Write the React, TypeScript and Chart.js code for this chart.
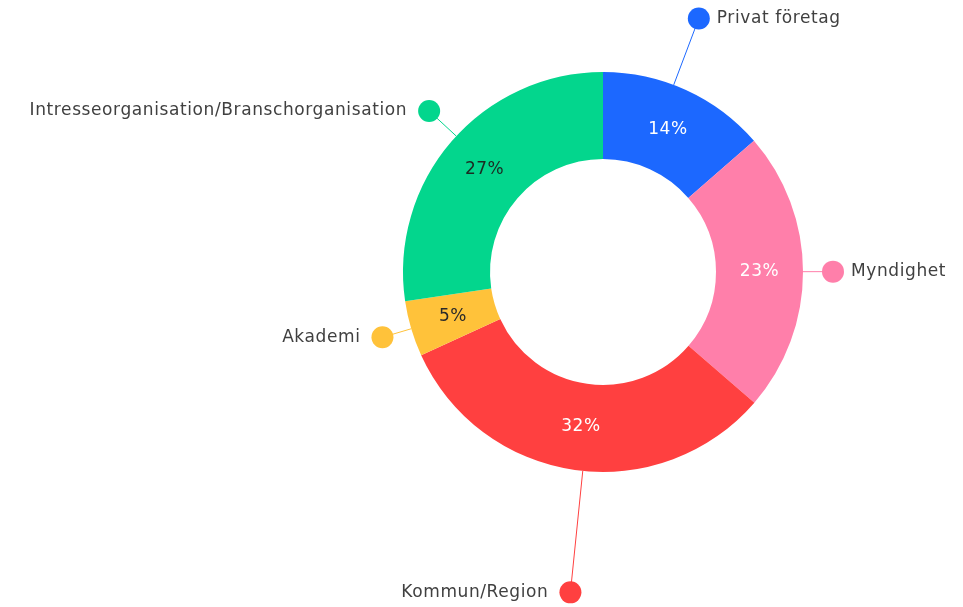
import React, { useEffect, useRef } from "react";
import { Chart, registerables } from "chart.js";

Chart.register(...registerables);

const categories = [
  "Privat företag",
  "Myndighet",
  "Kommun/Region",
  "Akademi",
  "Intresseorganisation/Branschorganisation",
];
const shares = [13.6, 22.7, 31.8, 4.5, 27.3];
const percentLabels = ["14%", "23%", "32%", "5%", "27%"];
const colors = ["#1C68FF", "#FF7FAA", "#FF4040", "#FFC23A", "#03D68D"];
const percentColors = ["#ffffff", "#ffffff", "#ffffff", "#2a2a2a", "#1c2b22"];
// callout styling: extra length beyond the ring and small angle nudges (degrees)
const calloutLength = [71, 30, 122, 30, 37];
const calloutNudge = [-3.8, 0, -2.3, 0, 2];

const calloutPlugin = {
  id: "callouts",
  afterDatasetsDraw(chart: any) {
    const ctx = chart.ctx as CanvasRenderingContext2D;
    const meta = chart.getDatasetMeta(0);
    meta.data.forEach((arc: any, i: number) => {
      const { x, y, startAngle, endAngle, outerRadius, innerRadius } = arc;
      const mid = (startAngle + endAngle) / 2;
      // percentage inside ring
      const rl = (outerRadius + innerRadius) / 2;
      const lx = x + Math.cos(mid) * rl;
      const ly = y + Math.sin(mid) * rl;
      ctx.save();
      (ctx as any).letterSpacing = "0.5px";
      ctx.font = "17px 'DejaVu Sans', sans-serif";
      ctx.fillStyle = percentColors[i];
      ctx.textAlign = "center";
      ctx.textBaseline = "middle";
      ctx.fillText(percentLabels[i], lx, ly);

      // callout
      const a = mid + (calloutNudge[i] * Math.PI) / 180;
      const sx = x + Math.cos(a) * outerRadius;
      const sy = y + Math.sin(a) * outerRadius;
      const d = outerRadius + calloutLength[i];
      const dx = x + Math.cos(a) * d;
      const dy = y + Math.sin(a) * d;
      ctx.strokeStyle = colors[i];
      ctx.lineWidth = 1;
      ctx.beginPath();
      ctx.moveTo(sx, sy);
      ctx.lineTo(dx, dy);
      ctx.stroke();
      ctx.fillStyle = colors[i];
      ctx.beginPath();
      ctx.arc(dx, dy, 11, 0, Math.PI * 2);
      ctx.fill();

      (ctx as any).letterSpacing = "0.6px";
      ctx.font = "17px 'DejaVu Sans', sans-serif";
      ctx.fillStyle = "#404040";
      ctx.textBaseline = "middle";
      if (dx >= x) {
        ctx.textAlign = "left";
        ctx.fillText(categories[i], dx + 18, dy);
      } else {
        ctx.textAlign = "right";
        ctx.fillText(categories[i], dx - 22, dy);
      }
      ctx.restore();
    });
  },
};

export default function App() {
  const ref = useRef<HTMLCanvasElement | null>(null);
  useEffect(() => {
    document.body.style.margin = "0";
    const chart = new Chart(ref.current as HTMLCanvasElement, {
      type: "doughnut",
      data: {
        labels: categories,
        datasets: [
          {
            data: shares,
            backgroundColor: colors,
            borderWidth: 0,
          },
        ],
      },
      options: {
        responsive: false,
        animation: false,
        cutout: "56.5%",
        layout: { padding: { top: 72, bottom: 135, left: 403, right: 160 } },
        plugins: {
          legend: { display: false },
          tooltip: { enabled: false },
        },
      },
      plugins: [calloutPlugin],
    });
    return () => chart.destroy();
  }, []);
  return (
    <div style={{ width: 963, height: 607, background: "#fff" }}>
      <canvas ref={ref} width={963} height={607} style={{ display: "block" }} />
    </div>
  );
}
